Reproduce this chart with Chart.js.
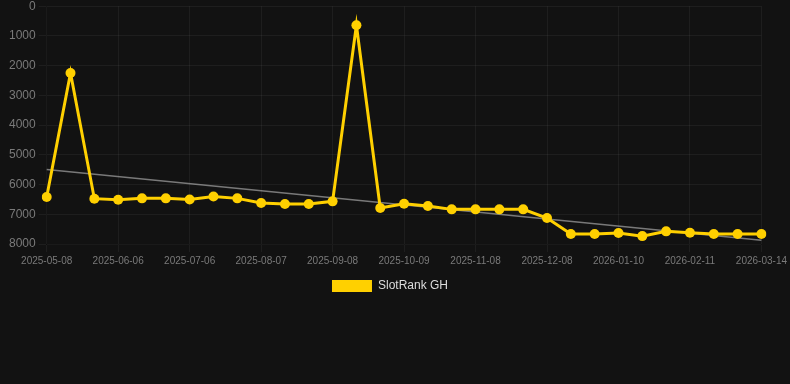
<!DOCTYPE html>
<html>
<head>
<meta charset="utf-8">
<script src="https://cdn.jsdelivr.net/npm/chart.js@4"></script>
<style>
  html, body { margin: 0; padding: 0; background: #121212; overflow: hidden; }
  .wrap { position: relative; width: 790px; height: 306px; margin-top: -4px; }
</style>
</head>
<body>
<div class="wrap"><canvas id="rank"></canvas></div>
<script>
const dates = [
  '2025-05-08', '2025-05-18', '2025-05-28', '2025-06-06', '2025-06-16', '2025-06-26',
  '2025-07-06', '2025-07-17', '2025-07-27', '2025-08-07', '2025-08-18', '2025-08-28',
  '2025-09-08', '2025-09-18', '2025-09-29', '2025-10-09', '2025-10-19', '2025-10-29',
  '2025-11-08', '2025-11-18', '2025-11-28', '2025-12-08', '2025-12-19', '2025-12-30',
  '2026-01-10', '2026-01-21', '2026-01-31', '2026-02-11', '2026-02-21', '2026-03-03',
  '2026-03-14'
];
const rankGH = [
  6420, 2245, 6475, 6510, 6465, 6465, 6500, 6400, 6465, 6620, 6655,
  6655, 6565, 640, 6790, 6645, 6720, 6835, 6835, 6835, 6835, 7125,
  7665, 7665, 7630, 7735, 7575, 7620, 7665, 7665, 7665
];
// trend line: only the two end values
const trendStart = 5490;
const trendEnd = 7870;
const yTicks = { min: 0, max: 8000, step: 1000 };

const trend = dates.map((d, i) => i === 0 ? trendStart : (i === dates.length - 1 ? trendEnd : null));
const gridCol = 'rgba(255,255,255,0.05)';

// nudge the legend a little left, like the original
const legendShift = {
  id: 'legendShift',
  afterLayout(chart) {
    if (!chart.legend) return;
    chart.legend.left -= 8; chart.legend.right -= 8;
  }
};

new Chart(document.getElementById('rank'), {
  type: 'line',
  data: {
    labels: dates,
    datasets: [
      { label: 'SlotRank GH', data: rankGH, borderColor: '#ffd000', backgroundColor: '#ffd000',
        borderWidth: 3, pointRadius: 5, pointBorderWidth: 0, tension: 0, order: 1 },
      { label: 'trend', data: trend, borderColor: 'rgba(190,190,190,0.6)', borderWidth: 1.5,
        pointRadius: 0, spanGaps: true, fill: false, order: 2 }
    ]
  },
  options: {
    responsive: true, maintainAspectRatio: false, animation: false,
    layout: { padding: { left: 6, right: 0 } },
    scales: {
      x: {
        ticks: {
          color: '#7a7a7a', font: { size: 10 }, autoSkip: false, maxRotation: 0,
          callback: (v, i) => i % 3 === 0 ? dates[i] : ''
        },
        grid: { color: ctx => ctx.index % 3 === 0 ? gridCol : 'transparent' }
      },
      y: {
        reverse: true, min: yTicks.min, max: yTicks.max,
        ticks: { stepSize: yTicks.step, color: '#7a7a7a', font: { size: 12 }, callback: v => String(v) },
        grid: { color: gridCol }
      }
    },
    plugins: {
      legend: {
        position: 'bottom',
        labels: {
          color: '#dddddd', font: { size: 12 }, boxWidth: 40, boxHeight: 12,
          filter: item => item.text !== 'trend',
          generateLabels: chart => Chart.defaults.plugins.legend.labels.generateLabels(chart)
            .map(l => Object.assign(l, { lineWidth: 0 }))
        }
      },
      tooltip: { enabled: false }
    }
  },
  plugins: [legendShift]
});
</script>
</body>
</html>
